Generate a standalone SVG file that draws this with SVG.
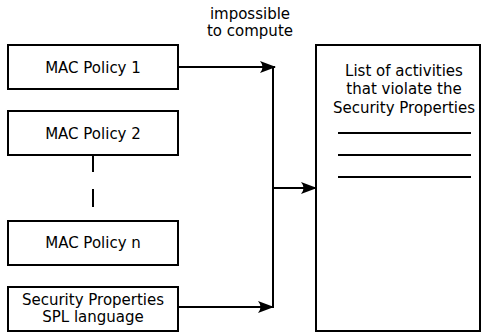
<svg xmlns="http://www.w3.org/2000/svg" width="482" height="333" viewBox="0 0 482 333">
  <style>
    .box { fill: #fff; stroke: #000; stroke-width: 2; }
    .wire { fill: none; stroke: #000; stroke-width: 2; }
    .lbl { font-family: "DejaVu Sans", sans-serif; font-size: 15px; fill: #000; text-anchor: middle; }
  </style>
  <defs>
    <marker id="arrow" viewBox="0 0 16 12" refX="15" refY="6" markerWidth="16" markerHeight="12" markerUnits="userSpaceOnUse" orient="auto">
      <path d="M0,0 L16,6 L0,12 Q5,6 0,0 Z" fill="#000"/>
    </marker>
  </defs>

  <rect width="482" height="333" fill="#fff"/>

  <g id="connectors">
    <line class="wire" x1="178" y1="67" x2="275" y2="67" marker-end="url(#arrow)"/>
    <line class="wire" x1="178" y1="307" x2="273" y2="307" marker-end="url(#arrow)"/>
    <line class="wire" x1="273" y1="67" x2="273" y2="308"/>
    <line class="wire" x1="273" y1="188" x2="316" y2="188" marker-end="url(#arrow)"/>
    <line class="wire" x1="93" y1="155" x2="93" y2="172"/>
    <line class="wire" x1="93" y1="189" x2="93" y2="207"/>
  </g>

  <g id="note-impossible">
    <text class="lbl" x="250" y="19">impossible</text>
    <text class="lbl" x="250" y="36">to compute</text>
  </g>

  <g id="mac-policy-1">
    <rect class="box" x="8" y="45" width="170" height="44"/>
    <text class="lbl" x="93" y="73">MAC Policy 1</text>
  </g>

  <g id="mac-policy-2">
    <rect class="box" x="8" y="111" width="170" height="44"/>
    <text class="lbl" x="93" y="139">MAC Policy 2</text>
  </g>

  <g id="mac-policy-n">
    <rect class="box" x="8" y="221" width="170" height="44"/>
    <text class="lbl" x="93" y="248">MAC Policy n</text>
  </g>

  <g id="security-properties">
    <rect class="box" x="8" y="287" width="170" height="44"/>
    <text class="lbl" x="93" y="305">Security Properties</text>
    <text class="lbl" x="93" y="322">SPL language</text>
  </g>

  <g id="violations-list">
    <rect class="box" x="316" y="45" width="164" height="286"/>
    <text class="lbl" x="404" y="76">List of activities</text>
    <text class="lbl" x="404" y="94">that violate the</text>
    <text class="lbl" x="404" y="113">Security Properties</text>
    <line class="wire" x1="338" y1="133" x2="471" y2="133"/>
    <line class="wire" x1="338" y1="155" x2="471" y2="155"/>
    <line class="wire" x1="338" y1="177" x2="471" y2="177"/>
  </g>
</svg>
